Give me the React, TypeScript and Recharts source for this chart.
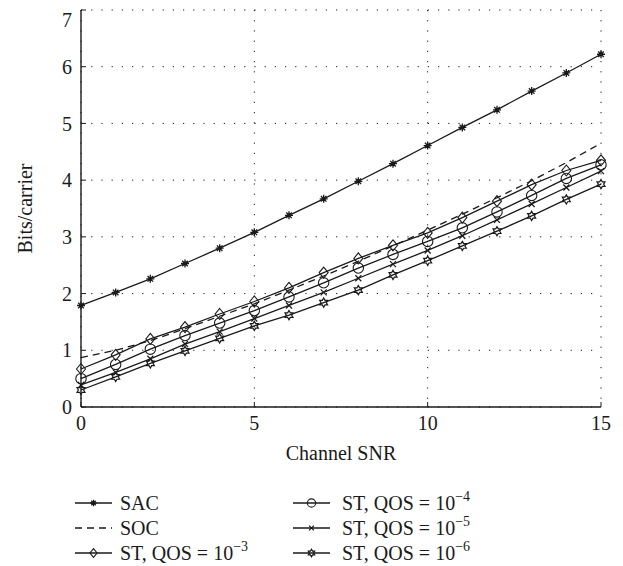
import React from 'react';
import { LineChart, Line, XAxis, YAxis, CartesianGrid } from 'recharts';

const snr = [0, 1, 2, 3, 4, 5, 6, 7, 8, 9, 10, 11, 12, 13, 14, 15];
const sac = [1.79, 2.02, 2.26, 2.53, 2.8, 3.08, 3.38, 3.67, 3.98, 4.29, 4.61, 4.93, 5.24, 5.57, 5.89, 6.22];
const soc = [0.87, 1.0, 1.17, 1.38, 1.6, 1.82, 2.06, 2.31, 2.57, 2.84, 3.12, 3.4, 3.69, 3.99, 4.31, 4.65];
const qos3 = [0.67, 0.92, 1.2, 1.41, 1.64, 1.86, 2.1, 2.37, 2.62, 2.85, 3.07, 3.34, 3.63, 3.92, 4.17, 4.35];
const qos4 = [0.5, 0.75, 1.02, 1.26, 1.48, 1.7, 1.94, 2.19, 2.45, 2.69, 2.92, 3.16, 3.44, 3.73, 4.03, 4.27];
const qos5 = [0.39, 0.61, 0.85, 1.11, 1.33, 1.56, 1.79, 2.02, 2.27, 2.52, 2.76, 3.02, 3.3, 3.58, 3.87, 4.16];
const qos6 = [0.3, 0.53, 0.77, 0.99, 1.21, 1.43, 1.62, 1.84, 2.06, 2.33, 2.58, 2.84, 3.1, 3.37, 3.66, 3.93];

const xTicks = [0, 5, 10, 15];
const yTicks = [0, 1, 2, 3, 4, 5, 6, 7];

type Kind = 'sac' | 'none' | 'diamond' | 'circle' | 'x' | 'hex';

const seriesList: { key: string; values: number[]; kind: Kind; label: string; exp?: string; dashed?: boolean }[] = [
  { key: 'sac', values: sac, kind: 'sac', label: 'SAC' },
  { key: 'soc', values: soc, kind: 'none', label: 'SOC', dashed: true },
  { key: 'qos3', values: qos3, kind: 'diamond', label: 'ST, QOS = 10', exp: '\u22123' },
  { key: 'qos4', values: qos4, kind: 'circle', label: 'ST, QOS = 10', exp: '\u22124' },
  { key: 'qos5', values: qos5, kind: 'x', label: 'ST, QOS = 10', exp: '\u22125' },
  { key: 'qos6', values: qos6, kind: 'hex', label: 'ST, QOS = 10', exp: '\u22126' },
];

const data = snr.map((x, i) => {
  const row: Record<string, number> = { snr: x };
  seriesList.forEach((s) => {
    row[s.key] = s.values[i];
  });
  return row;
});

const INK = '#1a1a1a';
const FONT = 'Liberation Serif, Times New Roman, Tinos, DejaVu Serif, serif';

function Marker({ kind, cx, cy, s = 1 }: { kind: Kind; cx: number; cy: number; s?: number }) {
  if (cx == null || cy == null || isNaN(cx) || isNaN(cy)) return null;
  switch (kind) {
    case 'sac': {
      const a = 4 * s;
      const b = 2.8 * s;
      return (
        <g>
          <path
            d={`M${cx - a},${cy}H${cx + a}M${cx},${cy - a}V${cy + a}M${cx - b},${cy - b}L${cx + b},${cy + b}M${cx - b},${cy + b}L${cx + b},${cy - b}`}
            stroke={INK}
            strokeWidth={1.3}
          />
          <circle cx={cx} cy={cy} r={2 * s} fill={INK} />
        </g>
      );
    }
    case 'diamond': {
      const w = 4.5 * s;
      const h = 5.5 * s;
      return (
        <path
          d={`M${cx},${cy - h}L${cx + w},${cy}L${cx},${cy + h}L${cx - w},${cy}Z`}
          fill="none"
          stroke={INK}
          strokeWidth={1.1}
        />
      );
    }
    case 'circle':
      return <circle cx={cx} cy={cy} r={5.2 * s} fill="none" stroke={INK} strokeWidth={1.1} />;
    case 'x': {
      const a = 3 * s;
      return (
        <path
          d={`M${cx - a},${cy - a}L${cx + a},${cy + a}M${cx - a},${cy + a}L${cx + a},${cy - a}`}
          stroke={INK}
          strokeWidth={1.2}
        />
      );
    }
    case 'hex': {
      const R = 4.6 * s;
      const r = R / Math.sqrt(3);
      const pts: string[] = [];
      for (let k = 0; k < 12; k++) {
        const ang = (-90 + k * 30) * (Math.PI / 180);
        const rad = k % 2 === 0 ? R : r;
        pts.push(`${(cx + rad * Math.cos(ang)).toFixed(2)},${(cy + rad * Math.sin(ang)).toFixed(2)}`);
      }
      return <polygon points={pts.join(' ')} fill="none" stroke={INK} strokeWidth={1.2} />;
    }
    default:
      return null;
  }
}

function XLabel(props: any) {
  const vb = props.viewBox || {};
  return (
    <text x={vb.x + vb.width / 2} y={vb.y + 53} textAnchor="middle" style={{ fontFamily: FONT }} fontSize={20} fill={INK}>
      Channel SNR
    </text>
  );
}

function YLabel(props: any) {
  const vb = props.viewBox || {};
  const x = 17;
  const y = vb.y + vb.height / 2;
  return (
    <text
      x={x}
      y={y}
      transform={`rotate(-90 ${x} ${y})`}
      textAnchor="middle"
      dominantBaseline="central"
      style={{ fontFamily: FONT }}
      fontSize={20}
      fill={INK}
    >
      Bits/carrier
    </text>
  );
}

function LegendBox() {
  const rowsY = [495, 520, 545];
  const cols = [
    { x0: 67, x1: 104, tx: 112 },
    { x0: 285, x1: 322, tx: 334 },
  ];
  return (
    <svg width={615} height={558} style={{ position: 'absolute', left: 0, top: 0, pointerEvents: 'none' }}>
      {seriesList.map((s, i) => {
        const col = cols[Math.floor(i / 3)];
        const y = rowsY[i % 3];
        const cx = (col.x0 + col.x1) / 2;
        return (
          <g key={s.key}>
            <line
              x1={col.x0}
              x2={col.x1}
              y1={y}
              y2={y}
              stroke={INK}
              strokeWidth={1.3}
              strokeDasharray={s.dashed ? '7 5' : undefined}
            />
            <Marker kind={s.kind} cx={cx} cy={y} s={0.8} />
            <text x={col.tx} y={y + 7} style={{ fontFamily: FONT }} fontSize={20} fill={INK}>
              {s.label}
              {s.exp ? (
                <tspan dy={-9} fontSize={14}>
                  {s.exp}
                </tspan>
              ) : null}
            </text>
          </g>
        );
      })}
    </svg>
  );
}

export default function App() {
  const tickStyle = { fontFamily: FONT, fontSize: 20, fill: INK, style: { fontFamily: FONT } };
  return (
    <div style={{ position: 'relative', width: 615, height: 558, fontFamily: FONT }}>
      <LineChart width={615} height={480} data={data} margin={{ top: 2, right: 22, left: 0, bottom: 0 }} style={{ fontFamily: FONT }}>
        <CartesianGrid stroke={INK} strokeWidth={1} strokeDasharray="1.2 9" />
        <XAxis
          dataKey="snr"
          type="number"
          domain={[0, 15]}
          ticks={xTicks}
          height={81}
          tickSize={-5}
          tickMargin={14}
          tick={tickStyle}
          axisLine={{ stroke: INK, strokeWidth: 1.4 }}
          tickLine={{ stroke: INK, strokeWidth: 1 }}
          label={<XLabel />}
        />
        <XAxis
          xAxisId="top"
          orientation="top"
          dataKey="snr"
          type="number"
          domain={[0, 15]}
          ticks={xTicks}
          height={0}
          tickSize={-5}
          tick={false}
          axisLine={{ stroke: INK, strokeWidth: 1.4 }}
          tickLine={{ stroke: INK, strokeWidth: 1 }}
        />
        <YAxis
          type="number"
          domain={[0, 7]}
          ticks={yTicks}
          width={73}
          tickSize={-5}
          tickMargin={14}
          tick={tickStyle}
          axisLine={{ stroke: INK, strokeWidth: 1.4 }}
          tickLine={{ stroke: INK, strokeWidth: 1 }}
          label={<YLabel />}
        />
        <YAxis
          yAxisId="right"
          orientation="right"
          type="number"
          domain={[0, 7]}
          ticks={yTicks}
          width={0}
          tickSize={-5}
          tick={false}
          axisLine={{ stroke: INK, strokeWidth: 1.4 }}
          tickLine={{ stroke: INK, strokeWidth: 1 }}
        />
        {seriesList.map((s) => (
          <Line
            key={s.key}
            dataKey={s.key}
            type="linear"
            stroke={INK}
            strokeWidth={1.3}
            strokeDasharray={s.dashed ? '7 5' : undefined}
            isAnimationActive={false}
            activeDot={false}
            dot={(p: any) => <Marker key={`${s.key}-${p.index}`} kind={s.kind} cx={p.cx} cy={p.cy} />}
          />
        ))}
      </LineChart>
      <LegendBox />
    </div>
  );
}
